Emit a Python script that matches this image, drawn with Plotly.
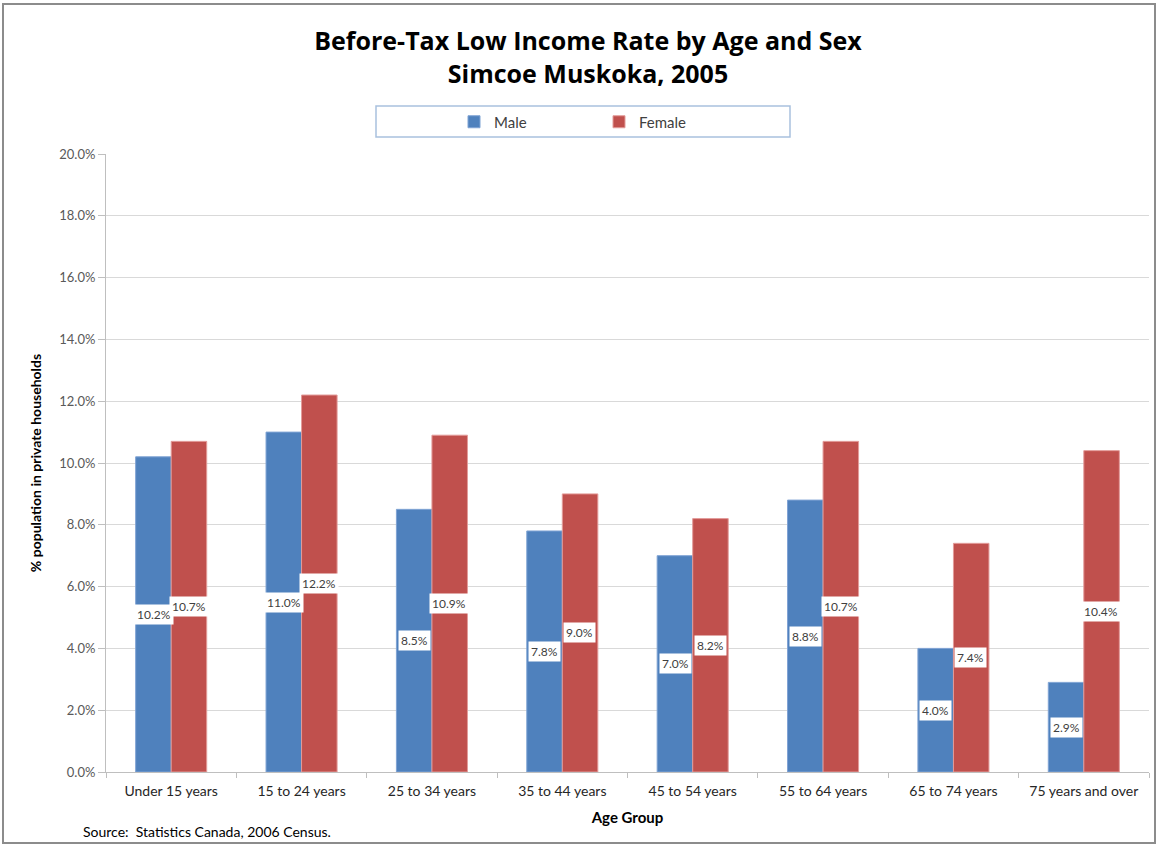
import plotly.graph_objects as go

categories = ["Under 15 years", "15 to 24 years", "25 to 34 years", "35 to 44 years",
              "45 to 54 years", "55 to 64 years", "65 to 74 years", "75 years and over"]
male = [10.2, 11.0, 8.5, 7.8, 7.0, 8.8, 4.0, 2.9]
female = [10.7, 12.2, 10.9, 9.0, 8.2, 10.7, 7.4, 10.4]
y_ticks = [0, 2, 4, 6, 8, 10, 12, 14, 16, 18, 20]
y_tick_labels = [f"{v:.1f}%" for v in y_ticks]

BLUE = "#4f81bd"
RED = "#c0504d"
FONT = "Lato"

W, H = 1158, 845
L, R, T, B = 106, 9, 154, 73
pw = W - L - R
ph = H - T - B

def px_x(px):
    return (px - L) / pw

def px_y(py):
    return (H - B - py) / ph

fig = go.Figure()
fig.add_trace(go.Bar(x=categories, y=male, name="Male", marker_color=BLUE,
                     marker_line=dict(color="#7fa3d4", width=1)))
fig.add_trace(go.Bar(x=categories, y=female, name="Female", marker_color=RED,
                     marker_line=dict(color="#e39c9a", width=1)))

annotations = []
for series, shift in ((male, -17.5), (female, 17.5)):
    for c, v in zip(categories, series):
        annotations.append(dict(x=c, y=v / 2, xref="x", yref="y", xshift=shift,
                                text=f"{v:.1f}%", showarrow=False, bgcolor="white",
                                borderpad=2,
                                font=dict(family=FONT, size=12, color="#404040")))

annotations.append(dict(x=px_x(81), y=px_y(831), xref="paper", yref="paper",
                        xanchor="left", yanchor="middle", showarrow=False,
                        text="Source:  Statistics Canada, 2006 Census.",
                        font=dict(family=FONT, size=14, color="#000000")))

fig.update_layout(
    width=W, height=H,
    margin=dict(l=L, r=R, t=T, b=B, autoexpand=False),
    paper_bgcolor="white", plot_bgcolor="white",
    title=dict(text="<b>Before-Tax Low Income Rate by Age and Sex<br>Simcoe Muskoka, 2005</b>",
               xref="container", x=588 / W, xanchor="center",
               yref="container", y=1 - 50 / H, yanchor="middle",
               font=dict(family="Open Sans", size=25, color="#000000")),
    barmode="group", bargap=0.455, bargroupgap=0,
    legend=dict(orientation="h", x=px_x(454), xanchor="left", y=px_y(122), yanchor="middle",
                entrywidth=100, font=dict(family=FONT, size=15, color="#404040"),
                bgcolor="rgba(0,0,0,0)", itemwidth=30),
    font=dict(family=FONT),
    annotations=annotations,
    shapes=[
        dict(type="rect", xref="paper", yref="paper", x0=px_x(376), x1=px_x(790),
             y0=px_y(106), y1=px_y(137), line=dict(color="#a9c1de", width=1.5)),
        dict(type="rect", xref="paper", yref="paper", x0=px_x(3), x1=px_x(1155),
             y0=px_y(4), y1=px_y(843), line=dict(color="#8c8c8c", width=2)),
    ],
)
fig.update_yaxes(range=[0, 20], tickvals=y_ticks, ticktext=y_tick_labels,
                 showgrid=True, gridcolor="#d9d9d9", gridwidth=1,
                 showline=True, linecolor="#bfbfbf", linewidth=1,
                 ticks="outside", ticklen=7, tickcolor="#bfbfbf",
                 tickfont=dict(family=FONT, size=13, color="#595959"),
                 title=dict(text="<b>% population in private households</b>", standoff=14,
                            font=dict(family=FONT, size=14, color="#000000")),
                 zeroline=False)
fig.update_xaxes(showline=True, linecolor="#bfbfbf", linewidth=1,
                 ticks="outside", tickson="boundaries", ticklen=5, tickcolor="#bfbfbf",
                 ticklabelstandoff=6,
                 tickfont=dict(family=FONT, size=14, color="#262626"),
                 title=dict(text="<b>Age Group</b>", standoff=14,
                            font=dict(family=FONT, size=15, color="#000000")))

fig.write_html("out.html", config={"displayModeBar": False},
               post_script="document.body.style.margin='0px';")
